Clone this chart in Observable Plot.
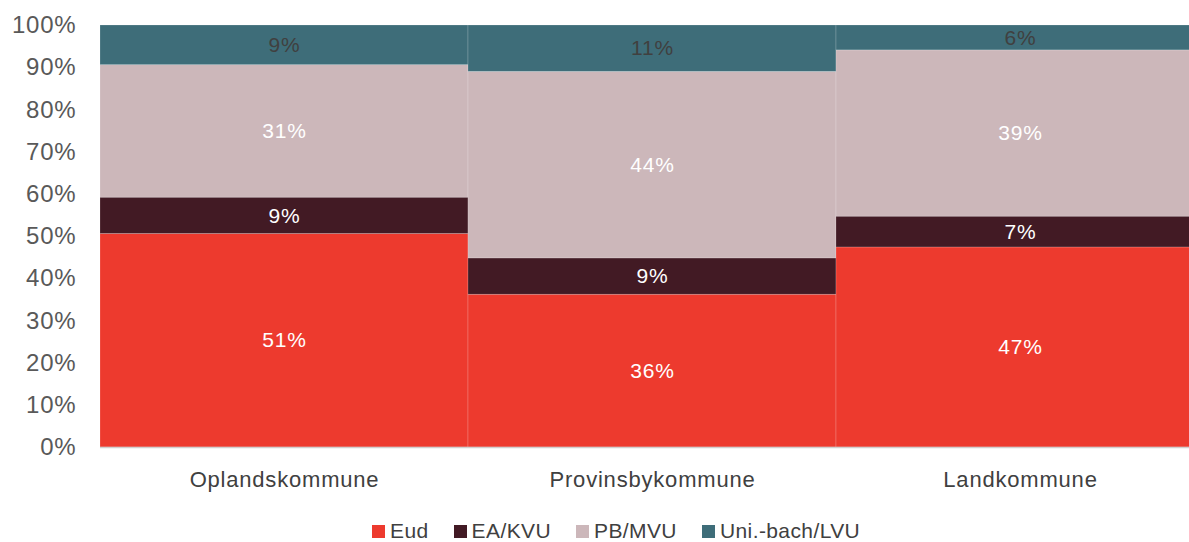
<!DOCTYPE html>
<html>
<head>
<meta charset="utf-8">
<script src="https://cdn.jsdelivr.net/npm/d3@7"></script>
<script src="https://cdn.jsdelivr.net/npm/@observablehq/plot@0.6"></script>
<style>
  html, body { margin: 0; padding: 0; background: #fff; overflow: hidden; }
  #wrap { width: 1189px; overflow: hidden; position: relative; }
  #chart svg { max-width: none !important; display: block; }
  .legend { position: relative; height: 42px; font-family: "Liberation Sans", Arial, sans-serif; font-size: 21px; line-height: 20px; letter-spacing: 0.4px; color: #404040; }
  .legend .items { position: absolute; left: 372px; top: 21px; height: 20px; display: flex; align-items: center; gap: 25px; }
  .legend .item { display: flex; align-items: center; gap: 5px; }
  .legend .sw { width: 13px; height: 13px; display: inline-block; }
</style>
</head>
<body>
<div id="wrap"><div id="chart"></div><div class="legend"><div class="items" id="legend"></div></div></div>
<script>
const categories = ["Oplandskommune", "Provinsbykommune", "Landkommune"];
const series = ["Eud", "EA/KVU", "PB/MVU", "Uni.-bach/LVU"];
const colors = ["#ED3A2E", "#421A24", "#CCB7BA", "#3E6D79"];
const labelColors = ["#ffffff", "#ffffff", "#ffffff", "#404040"];
const eud = [50.6, 36.2, 47.4];
const eaKvu = [8.6, 8.6, 7.3];
const pbMvu = [31.4, 44.2, 39.4];
const uniLvu = [9.4, 11.0, 5.9];
const labels = [["51%", "9%", "31%", "9%"], ["36%", "9%", "44%", "11%"], ["47%", "7%", "39%", "6%"]];
const yTicks = [0, 10, 20, 30, 40, 50, 60, 70, 80, 90, 100];

const seriesValues = [eud, eaKvu, pbMvu, uniLvu];
const data = [];
categories.forEach((c, i) => {
  series.forEach((s, j) => {
    data.push({category: c, series: s, value: seriesValues[j][i], label: labels[i][j], labelColor: labelColors[j]});
  });
});

const font = "'Liberation Sans', Arial, sans-serif";
const chart = Plot.plot({
  width: 1204,
  height: 500,
  marginTop: 25,
  marginBottom: 53,
  marginLeft: 100,
  marginRight: 0,
  style: {fontFamily: font, fontSize: "22px", color: "#595959", background: "#fff", letterSpacing: "0.8px"},
  x: {domain: categories, padding: 0},
  y: {domain: [0, 100]},
  color: {domain: series, range: colors},
  marks: [
    Plot.gridY(yTicks, {stroke: "#d9d9d9", strokeOpacity: 1}),
    Plot.barY(data, Plot.stackY({x: "category", y: "value", fill: "series", order: series, stroke: "#ffffff", strokeOpacity: 0.25, strokeWidth: 0.7})),
    Plot.ruleY([0], {stroke: "#d0d0d0", strokeWidth: 1.5}),
    Plot.text(data, Plot.stackY({x: "category", y: "value", z: "series", order: series, text: "label", fill: "labelColor", fontSize: 21})),
    Plot.axisY({ticks: yTicks, tickFormat: d => d + "%", tickSize: 0, tickPadding: 24, fontSize: 24, fill: "#595959", label: null}),
    Plot.axisX({tickSize: 0, tickPadding: 24, fontSize: 22, fill: "#404040", label: null})
  ]
});
document.getElementById("chart").appendChild(chart);

const leg = document.getElementById("legend");
series.forEach((s, j) => {
  const it = document.createElement("div");
  it.className = "item";
  it.innerHTML = `<span class="sw" style="background:${colors[j]}"></span><span>${s}</span>`;
  leg.appendChild(it);
});
</script>
</body>
</html>
